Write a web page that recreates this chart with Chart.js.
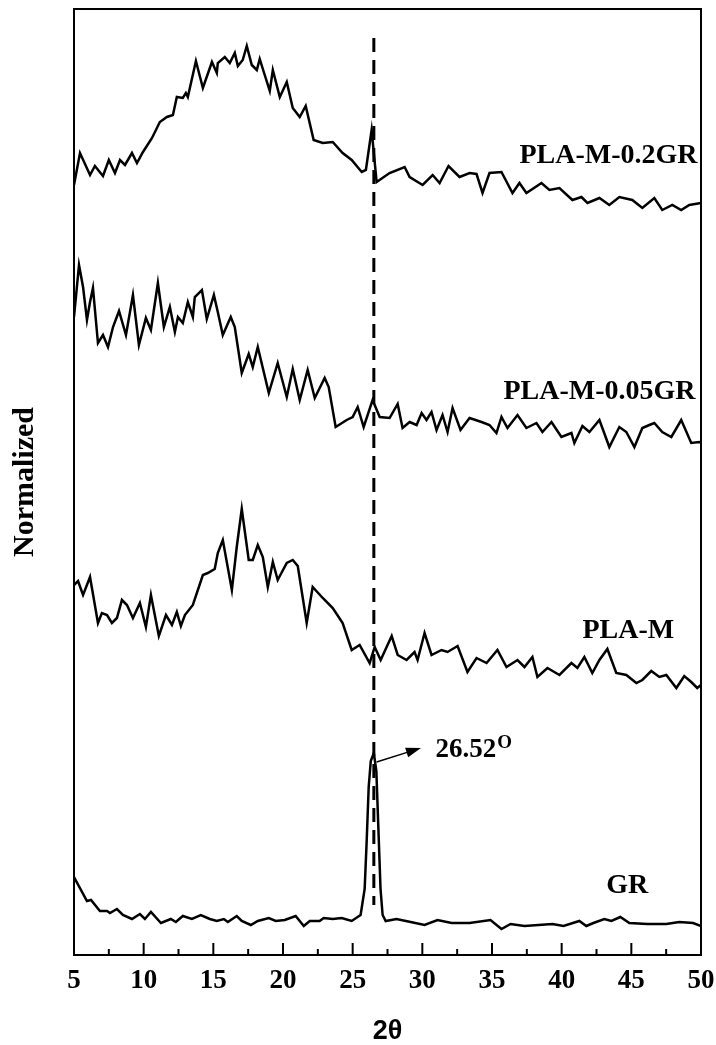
<!DOCTYPE html>
<html>
<head>
<meta charset="utf-8">
<title>XRD patterns</title>
<script src="https://cdn.jsdelivr.net/npm/chart.js@4.4.0/dist/chart.umd.min.js"></script>
<style>
  html, body { margin: 0; padding: 0; background: #fff; overflow: hidden; }
  #wrap { position: relative; width: 716px; height: 1045px; }
  #xrd { display: block; }
</style>
</head>
<body>
<div id="wrap"><canvas id="xrd"></canvas></div>
<script>
'use strict';

// 2θ (deg) and stacked normalized intensity (a.u.) for each sample
const ANGLES_02GR = [5.0, 5.43, 6.15, 6.5, 7.08, 7.5, 7.94, 8.3, 8.66, 9.16, 9.52, 9.95, 10.6, 11.16, 11.67, 12.1, 12.38, 12.81, 13.03, 13.17, 13.75, 14.25, 14.9, 15.25, 15.32, 15.82, 16.18, 16.54, 16.76, 17.11, 17.4, 17.76, 18.12, 18.33, 18.62, 19.05, 19.27, 19.77, 20.27, 20.7, 21.2, 21.63, 22.2, 22.85, 23.57, 24.28, 24.93, 25.65, 25.95, 26.36, 26.72, 27.65, 28.73, 29.09, 30.02, 30.74, 31.24, 31.88, 32.67, 33.39, 33.89, 34.32, 34.82, 35.68, 36.47, 36.97, 37.47, 38.55, 39.12, 39.84, 40.77, 41.42, 41.85, 42.71, 43.42, 44.14, 45.07, 45.79, 46.65, 47.22, 47.94, 48.58, 49.16, 50.0];
const INT_02GR = [770, 802, 780, 789, 779, 795, 782, 795, 790, 802, 792, 803, 817, 833, 838, 840, 858, 857, 862, 858, 894, 867, 893, 882, 892, 898, 892, 902, 889, 895, 909, 890, 885, 896, 883, 864, 885, 858, 873, 847, 838, 849, 815, 812, 813, 802, 795, 783, 785, 825, 773, 782, 788, 778, 770, 780, 772, 789, 778, 782, 781, 762, 782, 783, 762, 772, 762, 772, 765, 767, 755, 758, 752, 757, 750, 758, 755, 747, 757, 745, 750, 745, 750, 752];

const ANGLES_005GR = [5.0, 5.36, 5.65, 5.93, 6.15, 6.36, 6.72, 7.08, 7.44, 7.8, 8.23, 8.73, 9.23, 9.66, 10.16, 10.52, 11.02, 11.45, 11.88, 12.24, 12.46, 12.81, 13.17, 13.53, 13.67, 14.18, 14.53, 15.04, 15.32, 15.68, 16.25, 16.54, 17.04, 17.54, 17.83, 18.19, 18.98, 19.62, 20.27, 20.7, 21.2, 21.77, 22.28, 22.99, 23.28, 23.78, 24.57, 25.0, 25.36, 25.79, 26.43, 26.94, 27.65, 28.23, 28.58, 29.09, 29.59, 29.95, 30.3, 30.66, 31.02, 31.45, 31.81, 32.17, 32.74, 33.39, 34.25, 34.82, 35.32, 35.68, 36.11, 36.83, 37.47, 38.19, 38.62, 39.27, 39.98, 40.7, 40.91, 41.49, 41.99, 42.71, 43.42, 44.14, 44.64, 45.22, 45.79, 46.29, 46.65, 47.22, 47.87, 48.58, 49.3, 49.87, 50.0];
const INT_005GR = [638, 690, 668, 635, 653, 667, 612, 620, 608, 628, 644, 620, 660, 610, 637, 625, 672, 628, 648, 623, 638, 632, 653, 638, 658, 665, 636, 660, 643, 620, 638, 628, 582, 601, 588, 608, 562, 592, 558, 586, 555, 585, 557, 577, 568, 528, 535, 538, 548, 528, 555, 538, 537, 551, 527, 533, 530, 542, 535, 543, 525, 540, 523, 547, 525, 537, 533, 530, 522, 538, 527, 540, 527, 532, 523, 533, 518, 522, 512, 529, 523, 535, 508, 528, 523, 508, 527, 530, 532, 523, 518, 535, 512, 513, 512];

const ANGLES_PLAM = [5.0, 5.29, 5.65, 6.15, 6.72, 7.0, 7.37, 7.72, 8.08, 8.44, 8.8, 9.23, 9.73, 10.16, 10.52, 11.09, 11.6, 12.03, 12.38, 12.67, 12.96, 13.53, 14.25, 14.6, 15.1, 15.32, 15.68, 16.33, 16.68, 17.04, 17.54, 17.83, 18.19, 18.55, 18.91, 19.27, 19.62, 20.27, 20.7, 21.06, 21.7, 22.13, 22.85, 23.57, 24.28, 24.93, 25.5, 26.22, 26.58, 27.01, 27.8, 28.23, 28.87, 29.44, 29.66, 30.16, 30.66, 31.38, 31.81, 32.53, 33.24, 33.89, 34.61, 35.39, 36.04, 36.83, 37.33, 37.9, 38.26, 38.98, 39.84, 40.7, 41.13, 41.63, 42.2, 42.71, 43.28, 43.92, 44.64, 45.36, 45.79, 46.43, 47.01, 47.51, 48.23, 48.8, 49.3, 49.73, 50.0];
const INT_PLAM = [370, 374, 360, 378, 332, 342, 340, 332, 337, 355, 350, 337, 352, 328, 360, 319, 340, 330, 343, 329, 340, 350, 380, 382, 386, 402, 415, 365, 408, 446, 395, 395, 410, 398, 368, 393, 375, 392, 395, 389, 332, 368, 357, 347, 332, 305, 310, 292, 308, 295, 319, 300, 295, 303, 295, 322, 300, 305, 303, 309, 283, 297, 292, 305, 288, 295, 288, 298, 278, 287, 280, 292, 287, 298, 282, 295, 306, 282, 280, 272, 275, 284, 278, 280, 267, 279, 273, 267, 270];

const ANGLES_GR = [5.0, 5.93, 6.22, 6.86, 7.37, 7.58, 8.08, 8.51, 9.16, 9.73, 10.09, 10.52, 11.24, 11.95, 12.31, 12.81, 13.46, 14.1, 14.75, 15.25, 15.75, 16.04, 16.68, 17.04, 17.69, 18.19, 18.98, 19.48, 20.13, 20.91, 21.49, 21.92, 22.63, 22.92, 23.57, 24.21, 24.93, 25.57, 25.86, 26.0, 26.15, 26.3, 26.52, 26.7, 26.85, 27.0, 27.15, 27.37, 28.15, 29.16, 30.16, 31.09, 32.1, 33.39, 34.89, 35.68, 36.33, 37.33, 38.33, 39.34, 40.13, 41.27, 41.77, 42.28, 43.06, 43.57, 44.21, 44.86, 46.15, 47.51, 48.44, 49.44, 50.0];
const INT_GR = [78, 54, 55, 44, 44, 42, 46, 40, 36, 41, 36, 43, 32, 36, 33, 39, 36, 40, 36, 34, 36, 33, 39, 34, 30, 34, 37, 34, 35, 39, 29, 34, 34, 37, 36, 37, 34, 40, 66, 112, 168, 194, 202, 184, 125, 66, 40, 34, 36, 33, 30, 35, 32, 32, 35, 26, 31, 29, 30, 31, 29, 34, 29, 32, 36, 34, 38, 32, 31, 31, 33, 32, 29];

const X_TICKS = [5, 10, 15, 20, 25, 30, 35, 40, 45, 50];
const X_MINOR_TICKS = [7.5, 12.5, 17.5, 22.5, 27.5, 32.5, 37.5, 42.5, 47.5];

// graphite (002) reflection
const GR_PEAK = 26.52;
const GUIDE_SPAN = [917, 50];

const CURVE_LABELS = ['PLA-M-0.2GR', 'PLA-M-0.05GR', 'PLA-M', 'GR'];
const LABEL_ANCHORS = [[36.97, 792], [35.82, 556], [41.49, 317], [43.2, 62]];
const ARROW_FROM = [26.72, 193];
const ARROW_TO = [29.9, 207];
const PEAK_LABEL_AT = [30.95, 198];

const SERIF = "'Liberation Serif', 'Times New Roman', serif";
const SANS = "'Liberation Sans', Arial, sans-serif";

function toPoints(xs, ys) {
    return xs.map((x, i) => ({ x, y: ys[i] }));
}

// frame, inward ticks, sample names and the peak annotation
const decorations = {
    id: 'decorations',
    afterDatasetsDraw(chart) {
        const { ctx, chartArea: a, scales: { x, y } } = chart;
        ctx.save();
        ctx.strokeStyle = '#000';
        ctx.fillStyle = '#000';

        ctx.lineWidth = 2;
        ctx.strokeRect(a.left, a.top, a.right - a.left, a.bottom - a.top);

        ctx.beginPath();
        X_TICKS.forEach(v => {
            const px = x.getPixelForValue(v);
            ctx.moveTo(px, a.bottom);
            ctx.lineTo(px, a.bottom - 12);
        });
        X_MINOR_TICKS.forEach(v => {
            const px = x.getPixelForValue(v);
            ctx.moveTo(px, a.bottom);
            ctx.lineTo(px, a.bottom - 6);
        });
        ctx.stroke();

        ctx.font = `bold 28px ${SERIF}`;
        ctx.textAlign = 'left';
        ctx.textBaseline = 'alphabetic';
        CURVE_LABELS.forEach((name, i) => {
            const [lx, ly] = LABEL_ANCHORS[i];
            ctx.fillText(name, x.getPixelForValue(lx), y.getPixelForValue(ly));
        });

        // arrow from the GR peak to its position label
        const x0 = x.getPixelForValue(ARROW_FROM[0]), y0 = y.getPixelForValue(ARROW_FROM[1]);
        const x1 = x.getPixelForValue(ARROW_TO[0]), y1 = y.getPixelForValue(ARROW_TO[1]);
        const ang = Math.atan2(y1 - y0, x1 - x0);
        ctx.lineWidth = 1.5;
        ctx.beginPath();
        ctx.moveTo(x0, y0);
        ctx.lineTo(x1 - 12 * Math.cos(ang), y1 - 12 * Math.sin(ang));
        ctx.stroke();
        ctx.beginPath();
        ctx.moveTo(x1, y1);
        ctx.lineTo(x1 - 15 * Math.cos(ang) + 5 * Math.sin(ang), y1 - 15 * Math.sin(ang) - 5 * Math.cos(ang));
        ctx.lineTo(x1 - 15 * Math.cos(ang) - 5 * Math.sin(ang), y1 - 15 * Math.sin(ang) + 5 * Math.cos(ang));
        ctx.closePath();
        ctx.fill();

        const tx = x.getPixelForValue(PEAK_LABEL_AT[0]);
        const ty = y.getPixelForValue(PEAK_LABEL_AT[1]);
        const peakText = GR_PEAK.toFixed(2);
        ctx.font = `bold 27px ${SERIF}`;
        ctx.fillText(peakText, tx, ty);
        const w = ctx.measureText(peakText).width;
        ctx.font = `bold 19px ${SERIF}`;
        ctx.fillText('O', tx + w + 1, ty - 9);

        ctx.restore();
    }
};

const line = (xs, ys) => ({
    data: toPoints(xs, ys),
    borderColor: '#000',
    borderWidth: 2.5,
    pointRadius: 0,
    tension: 0,
});

new Chart(document.getElementById('xrd'), {
    type: 'line',
    data: {
        datasets: [
            line(ANGLES_02GR, INT_02GR),
            line(ANGLES_005GR, INT_005GR),
            line(ANGLES_PLAM, INT_PLAM),
            line(ANGLES_GR, INT_GR),
            {
                data: GUIDE_SPAN.map(v => ({ x: GR_PEAK, y: v })),
                borderColor: '#000',
                borderWidth: 3,
                borderDash: [14, 8],
                pointRadius: 0,
            },
        ],
    },
    options: {
        responsive: true,
        maintainAspectRatio: false,
        animation: false,
        events: [],
        layout: { padding: { top: 9, right: 15, left: 0, bottom: 0 } },
        plugins: { legend: { display: false }, tooltip: { enabled: false } },
        scales: {
            x: {
                type: 'linear',
                min: 5,
                max: 50,
                grid: { display: false, drawTicks: false },
                border: { display: false },
                afterBuildTicks: s => { s.ticks = X_TICKS.map(v => ({ value: v })); },
                ticks: {
                    color: '#000',
                    padding: 10,
                    maxRotation: 0,
                    autoSkip: false,
                    font: { family: SERIF, size: 27, weight: 'bold' },
                },
                title: {
                    display: true,
                    text: '2θ',
                    color: '#000',
                    padding: { top: 0, bottom: -3 },
                    font: { family: SANS, size: 27, weight: 'bold' },
                },
                // the end labels may hang past the frame without shrinking it
                afterFit: s => {
                    s.height = 90;
                    s.paddingLeft = 0;
                    s.paddingRight = 0;
                },
            },
            y: {
                min: 0,
                max: 946,
                grid: { display: false, drawTicks: false },
                border: { display: false },
                ticks: { display: false },
                title: {
                    display: true,
                    text: 'Normalized',
                    color: '#000',
                    padding: { top: 7, bottom: 0 },
                    font: { family: SERIF, size: 30, weight: 'bold' },
                },
                afterFit: s => { s.width = 74; },
            },
        },
    },
    plugins: [decorations],
});
</script>
</body>
</html>
